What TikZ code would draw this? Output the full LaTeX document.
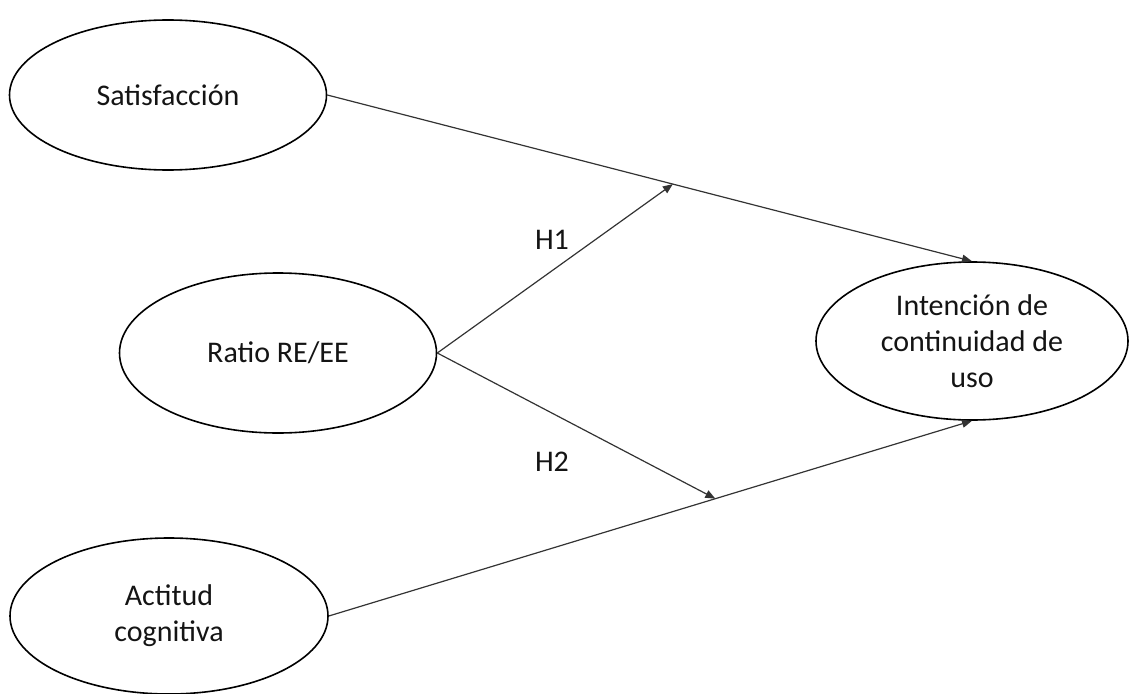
\documentclass[tikz,border=0pt]{standalone}
\usepackage{fontspec}
\setmainfont{Carlito}
\usetikzlibrary{shapes.geometric,arrows.meta}
\begin{document}
\begin{tikzpicture}[x=1pt,y=-1pt,
  construct/.style={ellipse,draw=black,line width=1.6pt,inner sep=0pt,align=center,
    font=\fontsize{30}{36}\selectfont,text=black!92},
  link/.style={draw=black!80,line width=1.2pt},
  linkarrow/.style={link,-{Triangle[length=10pt,width=8pt]}},
  hyp/.style={font=\fontsize{30}{36}\selectfont,text=black!92}]
\useasboundingbox (0,0) rectangle (1129,693);
\node[construct,minimum width=317pt,minimum height=150pt] (s) at (168,95) {Satisfacción};
\node[construct,minimum width=317pt,minimum height=160pt] (r) at (278,353) {Ratio RE/EE};
\node[construct,minimum width=318pt,minimum height=156pt] (a) at (169,616) {Actitud\\cognitiva};
\node[construct,minimum width=312pt,minimum height=158pt] (i) at (972,341) {Intención de\\continuidad de\\uso};
\draw[linkarrow] (s.east) -- coordinate[pos=0.536] (m1) (i.north);
\draw[linkarrow] (a.east) -- coordinate[pos=0.601] (m2) (i.south);
\draw[linkarrow] (r.east) -- (m1);
\draw[linkarrow] (r.east) -- (m2);
\node[hyp] (h1) at (552,240) {H1};
\node[hyp] (h2) at (552,462) {H2};
\end{tikzpicture}
\end{document}
